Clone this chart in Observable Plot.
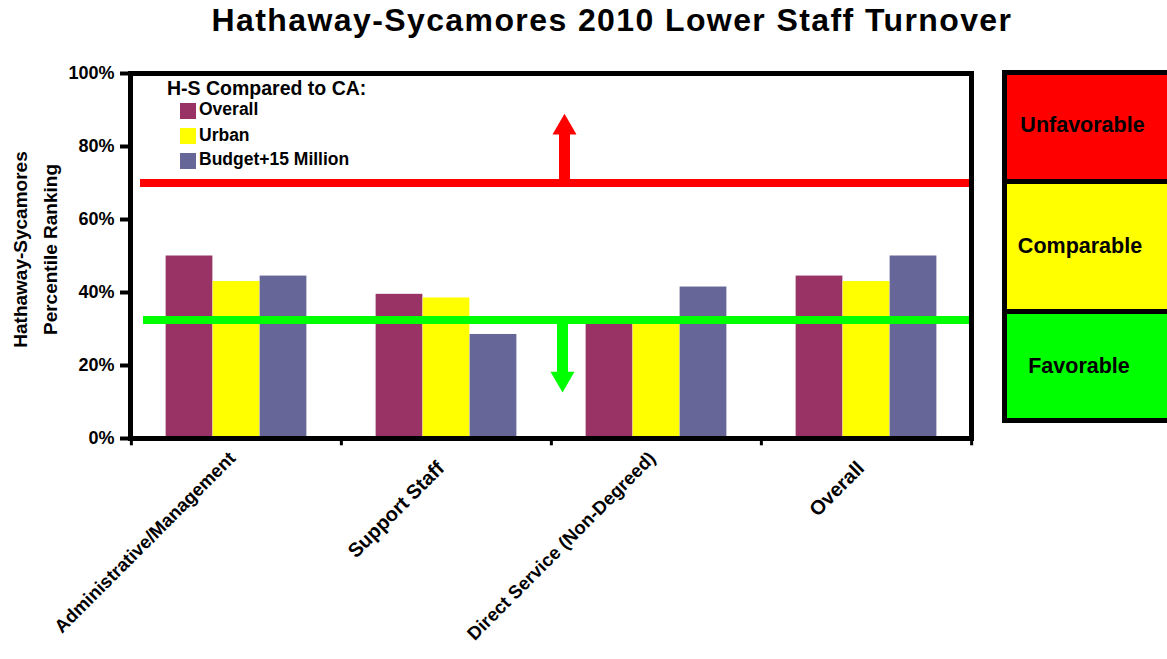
<!DOCTYPE html>
<html>
<head>
<meta charset="utf-8">
<script src="https://cdn.jsdelivr.net/npm/d3@7"></script>
<script src="https://cdn.jsdelivr.net/npm/@observablehq/plot@0.6"></script>
<style>
  body { margin: 0; background: #fff; font-family: "Liberation Sans", Arial, sans-serif; }
  #wrap { position: relative; width: 1167px; height: 659px; overflow: hidden; background: #fff; }
  #title { position: absolute; left: 0; top: 0; width: 1167px; padding-left: 57px; box-sizing: border-box;
           text-align: center; font-size: 32px; font-weight: bold; line-height: 40px; letter-spacing: 1.4px; color: #000; }
  #chart { position: absolute; left: 0; top: 50px; }
  .lg { position: absolute; font-weight: bold; color: #000; white-space: nowrap; }
  .sw { position: absolute; width: 16px; height: 16px; }
  #zones { position: absolute; left: 1002px; top: 70px; width: 190px; border: 5px solid #000; border-right: none; box-sizing: border-box; }
  .zone { box-sizing: border-box; }
  .zl { position: absolute; width: 200px; text-align: center; font-size: 21.5px; line-height: 21.5px; font-weight: bold; color: #000; }
</style>
</head>
<body>
<div id="wrap">
  <div id="title">Hathaway-Sycamores 2010 Lower Staff Turnover</div>
  <div id="chart"></div>
  <div id="legend"></div>
  <div id="zones"></div>
  <div id="zoneLabels"></div>
</div>
<script>
// ---- data ----
const categories = ["Administrative/Management", "Support Staff", "Direct Service (Non-Degreed)", "Overall"];
const seriesNames = ["Overall", "Urban", "Budget+15 Million"];
const seriesColors = ["#993366", "#FFFF00", "#666699"];
const overallValues = [50, 39.5, 32, 44.5];
const urbanValues = [43, 38.5, 32, 43];
const budgetValues = [44.5, 28.5, 41.5, 50];
const yTicks = [0, 20, 40, 60, 80, 100];
const unfavorableLine = 70;
const favorableLine = 32.5;
const upArrowTip = 89;
const downArrowTip = 12.6;
const legendTitle = "H-S Compared to CA:";
const yTitle = "Hathaway-Sycamores\nPercentile Ranking";
const zoneLabels = ["Unfavorable", "Comparable", "Favorable"];
const zoneColors = ["#FF0000", "#FFFF00", "#00FF00"];

// ---- chart ----
const seriesValues = [overallValues, urbanValues, budgetValues];
const bandW = (990 - 130 - 19) / categories.length;
const barW = 47;
const pad = (bandW - 3 * barW) / 2;

const barMarks = seriesValues.map((vals, s) => Plot.barY(categories, {
  x: d => d,
  y: (d, i) => vals[i],
  fill: seriesColors[s],
  insetLeft: pad + s * barW,
  insetRight: pad + (2 - s) * barW
}));

const arrowCat = [categories[2]];
const longCats = categories.filter(c => c.length > 15);
const shortCats = categories.filter(c => c.length <= 15);

const chart = Plot.plot({
  width: 990,
  height: 609,
  marginTop: 23,
  marginBottom: 221,
  marginLeft: 130,
  marginRight: 19,
  x: { domain: categories, padding: 0, axis: null },
  y: { domain: [0, 100], axis: null },
  style: { fontFamily: "'Liberation Sans', Arial, sans-serif", fontWeight: "bold", color: "#000", background: "transparent", overflow: "visible" },
  marks: [
    ...barMarks,
    Plot.ruleY([unfavorableLine], { stroke: "#FF0000", strokeWidth: 8, insetLeft: 10, insetRight: 2 }),
    Plot.ruleY([favorableLine], { stroke: "#00FF00", strokeWidth: 8, insetLeft: 13, insetRight: 2 }),
    Plot.ruleX(arrowCat, { x: d => d, y1: upArrowTip, y2: unfavorableLine, stroke: "#FF0000", strokeWidth: 11, insetTop: 17, dx: -92 }),
    Plot.dot(arrowCat, { x: d => d, y: upArrowTip, symbol: "triangle", r: 8.9, fill: "#FF0000", stroke: "none", dx: -92, dy: 13.86 }),
    Plot.ruleX(arrowCat, { x: d => d, y1: favorableLine, y2: downArrowTip, stroke: "#00FF00", strokeWidth: 11, insetBottom: 17, dx: -94 }),
    Plot.dot(arrowCat, { x: d => d, y: downArrowTip, symbol: "triangle", r: 8.9, rotate: 180, fill: "#00FF00", stroke: "none", dx: -94, dy: -13.86 }),
    Plot.frame({ stroke: "#000", strokeWidth: 5 }),
    Plot.axisY({ ticks: yTicks, tickFormat: d => d + "%", tickSize: 10, tickPadding: 6, strokeWidth: 4, fontSize: 18, fontWeight: "bold", label: null }),
    Plot.ruleX(categories, { x: d => d, y1: 0, y2: -2, dx: -bandW / 2, strokeWidth: 3 }),
    Plot.ruleX([categories[categories.length - 1]], { x: d => d, y1: 0, y2: -2, dx: bandW / 2, strokeWidth: 3 }),
    Plot.text(shortCats, { x: d => d, text: d => d, frameAnchor: "bottom", rotate: -45, textAnchor: "end", dx: -1, dy: 31, fontSize: 20, fontWeight: "bold" }),
    Plot.text(longCats, { x: d => d, text: d => d, frameAnchor: "bottom", rotate: -45, textAnchor: "end", dx: 0, dy: 21, fontSize: 18.5, fontWeight: "bold" }),
    Plot.text([yTitle], { text: d => d, frameAnchor: "left", textAnchor: "middle", rotate: -90, dx: -98, dy: -6.5, fontSize: 19, fontWeight: "bold", lineHeight: 1.58 })
  ]
});
document.getElementById("chart").appendChild(chart);

// ---- legend (inside plot area) ----
const legend = document.getElementById("legend");
const lt = document.createElement("div");
lt.className = "lg";
lt.style.cssText = "left:167px;top:79px;font-size:19.5px;line-height:19.5px;";
lt.textContent = legendTitle;
legend.appendChild(lt);
const swTops = [103, 128, 153];
const lbTops = [101.2, 127.2, 151.2];
seriesNames.forEach((name, i) => {
  const sw = document.createElement("div");
  sw.className = "sw";
  sw.style.left = "180px";
  sw.style.top = swTops[i] + "px";
  sw.style.background = seriesColors[i];
  legend.appendChild(sw);
  const lb = document.createElement("div");
  lb.className = "lg";
  lb.style.cssText = `left:199px;top:${lbTops[i]}px;font-size:17.5px;line-height:17.5px;`;
  lb.textContent = name;
  legend.appendChild(lb);
});

// ---- zone key on the right ----
const zones = document.getElementById("zones");
const zoneHeights = [109, 130, 104];
zoneColors.forEach((c, i) => {
  const z = document.createElement("div");
  z.className = "zone";
  z.style.background = c;
  z.style.height = zoneHeights[i] + "px";
  if (i < zoneColors.length - 1) z.style.borderBottom = "5px solid #000";
  zones.appendChild(z);
});
const zl = document.getElementById("zoneLabels");
const zlCenters = [1082.5, 1080, 1079];
const zlTops = [114.5, 235.8, 355.8];
zoneLabels.forEach((t, i) => {
  const d = document.createElement("div");
  d.className = "zl";
  d.style.left = (zlCenters[i] - 100) + "px";
  d.style.top = zlTops[i] + "px";
  d.textContent = t;
  zl.appendChild(d);
});
</script>
</body>
</html>
